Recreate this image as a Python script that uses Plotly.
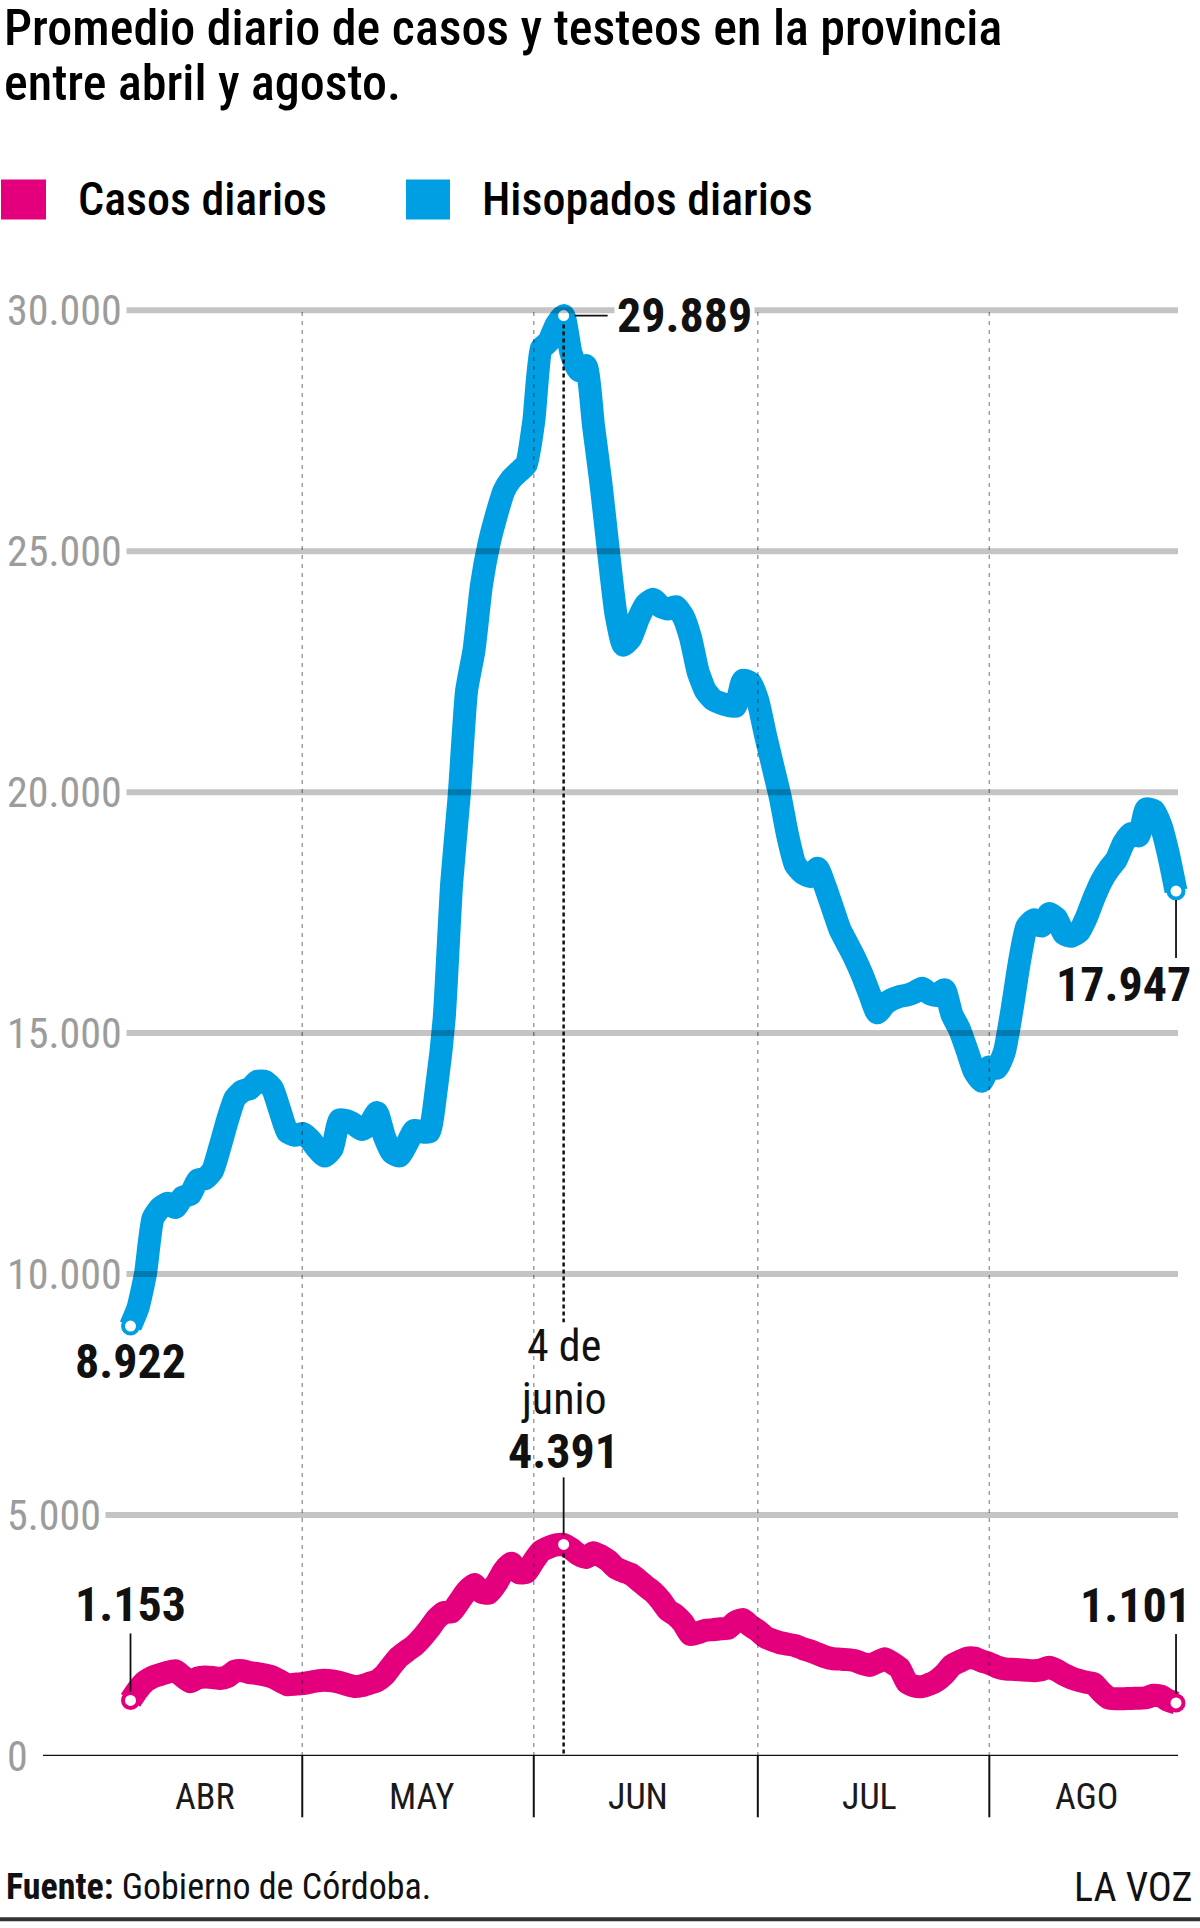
import pandas as pd
import plotly.graph_objects as go

# ---------------- data (7-day averages, Córdoba) ----------------
start_date = "2021-04-07"
hisopados = [8922, 9300, 10000, 11150, 11380, 11470, 11380, 11600, 11650, 11950,
             11980, 12150, 12650, 13200, 13650, 13800, 13850, 14000, 14000, 13850,
             13400, 12950, 12880, 12920, 12800, 12600, 12450, 12600, 13200, 13180,
             13100, 13000, 13100, 13350, 12850, 12520, 12450, 12700, 12980, 12950,
             12950, 13900, 15300, 18100, 19900, 22100, 22950, 24300, 25150, 25750,
             26250, 26500, 26650, 26800, 27700, 29200, 29350, 29700, 29889, 29100,
             28750, 28850, 27600, 26400, 25000, 23700, 23050, 23200, 23600, 23900,
             24000, 23850, 23800, 23850, 23650, 23200, 22500, 22100, 21920, 21850,
             21800, 21780, 22320, 22270, 21900, 21200, 20550, 19900, 19100, 18500,
             18320, 18250, 18420, 18050, 17600, 17150, 16850, 16550, 16200, 15800,
             15420, 15600, 15700, 15760, 15790, 15850, 15930, 15820, 15780, 15900,
             15380, 15080, 14650, 14200, 14000, 14300, 14270, 14600, 15450, 16450,
             17200, 17350, 17220, 17480, 17380, 17060, 17010, 17100, 17400, 17800,
             18150, 18400, 18600, 18950, 19140, 19090, 19650, 19620, 19300, 18700,
             17947]
casos = [1153, 1380, 1550, 1640, 1690, 1740, 1770, 1650, 1540, 1620,
         1640, 1630, 1610, 1650, 1760, 1770, 1730, 1710, 1680, 1640,
         1560, 1480, 1490, 1500, 1530, 1560, 1570, 1560, 1530, 1480,
         1440, 1460, 1510, 1560, 1680, 1880, 2060, 2180, 2290, 2450,
         2640, 2850, 2980, 2990, 3200, 3420, 3560, 3400, 3380, 3580,
         3850, 4000, 3800, 3810, 4050, 4250, 4330, 4380, 4391, 4300,
         4180, 4120, 4220, 4150, 4050, 3900, 3830, 3770, 3650, 3520,
         3400, 3230, 3020, 2920, 2760, 2520, 2560, 2610, 2620, 2640,
         2650, 2780, 2830, 2700, 2600, 2470, 2400, 2350, 2320, 2290,
         2230, 2180, 2120, 2060, 2020, 2010, 2000, 1980, 1920, 1880,
         1950, 2020, 1930, 1820, 1520, 1450, 1440, 1490, 1570, 1700,
         1880, 1960, 2030, 2030, 1970, 1920, 1850, 1810, 1800, 1790,
         1780, 1770, 1790, 1840, 1780, 1690, 1620, 1570, 1530, 1500,
         1330, 1200, 1190, 1190, 1195, 1200, 1210, 1260, 1240, 1150,
         1101]
highlight_idx = [0, 58, 140]          # first, peak (4 de junio), last
y_ticks = [0, 5000, 10000, 15000, 20000, 25000, 30000]
y_tick_labels = ["0", "5.000", "10.000", "15.000", "20.000", "25.000", "30.000"]
month_labels = ["ABR", "MAY", "JUN", "JUL", "AGO"]
month_label_dates = ["2021-04-17", "2021-05-16", "2021-06-14", "2021-07-15", "2021-08-13"]
month_dividers = ["2021-04-30", "2021-05-31", "2021-06-30", "2021-07-31"]

# ---------------- styling / layout geometry ----------------
PINK = "#E4007C"
BLUE = "#009FE3"
FONT = "Roboto Condensed, Liberation Sans Narrow, Arial Narrow, DejaVu Sans Condensed, Roboto, sans-serif"
W, H = 1200, 1928
L, R = 43, 13
Y0PX = 1755.7                 # pixel row of value 0
PX_PER_UNIT = 1445.9 / 30000  # vertical scale
DAY0PX = 130.5                # pixel column of first date
PX_PER_DAY = 7.468
YMAX = 31000
T = Y0PX - YMAX * PX_PER_UNIT
B = H - Y0PX
PW = W - L - R
PH = H - T - B

dates = pd.date_range(start_date, periods=len(hisopados), freq="D")
d0 = dates[0]
x_range = [d0 - pd.Timedelta(days=(DAY0PX - L) / PX_PER_DAY),
           d0 + pd.Timedelta(days=(W - R - DAY0PX) / PX_PER_DAY)]


def xpx(px):
    return (px - L) / PW


def ypx(py):
    return (H - B - py) / PH


def dy(px):
    return px / PX_PER_UNIT


def ydata(py):
    return (Y0PX - py) / PX_PER_UNIT


fig = go.Figure()

fig.add_trace(go.Scatter(x=dates, y=hisopados, mode="lines",
                         line=dict(color=BLUE, width=23, shape="spline", smoothing=0.5),
                         cliponaxis=False, name="Hisopados diarios", hoverinfo="skip"))
fig.add_trace(go.Scatter(x=dates, y=casos, mode="lines",
                         line=dict(color=PINK, width=23, shape="spline", smoothing=0.5),
                         cliponaxis=False, name="Casos diarios", hoverinfo="skip"))
for series, col in ((hisopados, BLUE), (casos, PINK)):
    fig.add_trace(go.Scatter(
        x=[dates[i] for i in highlight_idx], y=[series[i] for i in highlight_idx],
        mode="markers", cliponaxis=False, hoverinfo="skip",
        marker=dict(size=15, color="white", line=dict(color=col, width=4))))

shapes = []
annotations = []

# horizontal grid lines + labels
end_px = DAY0PX + (len(dates) - 1) * PX_PER_DAY
for v, lab in zip(y_ticks, y_tick_labels):
    if v == 0:
        shapes.append(dict(type="line", xref="paper", yref="y", x0=0, x1=xpx(end_px + 2),
                           y0=0, y1=0, line=dict(color="#111", width=2.5), layer="above"))
    else:
        shapes.append(dict(type="line", xref="paper", yref="y", x0=xpx(6), x1=xpx(end_px + 2),
                           y0=v, y1=v, line=dict(color="rgba(0,0,0,0.23)", width=6), layer="above"))
    annotations.append(dict(xref="paper", yref="y", x=xpx(2), y=v, text=lab, showarrow=False,
                            xanchor="left", yanchor="middle", bgcolor="white", borderpad=4,
                            font=dict(family=FONT, size=42, color="#9c9c9c")))

# month dividers and ticks
for d in month_dividers:
    shapes.append(dict(type="line", xref="x", yref="y", x0=d, x1=d, y0=0, y1=30000,
                       line=dict(color="rgba(0,0,0,0.38)", width=1.5, dash="4px,5px"),
                       layer="above"))
    shapes.append(dict(type="line", xref="x", yref="paper", x0=d, x1=d,
                       y0=ypx(Y0PX), y1=ypx(1817), line=dict(color="#111", width=2)))
for d, lab in zip(month_label_dates, month_labels):
    annotations.append(dict(xref="x", yref="paper", x=d, y=ypx(1797), text=lab,
                            showarrow=False, xanchor="center", yanchor="middle",
                            font=dict(family=FONT, size=36, color="#1a1a1a")))

# peak dotted line (4 de junio)
pk = dates[highlight_idx[1]]
dot = dict(color="#111", width=2.5, dash="4px,3px")
shapes.append(dict(type="line", xref="x", yref="y", x0=pk, x1=pk,
                   y0=hisopados[58] - dy(9), y1=ydata(1322), line=dot))
shapes.append(dict(type="line", xref="x", yref="y", x0=pk, x1=pk,
                   y0=casos[58] - dy(9), y1=0, line=dot))

# leaders
lead = dict(color="#111", width=1.8)
shapes.append(dict(type="line", xref="x", yref="y",
                   x0=pk + pd.Timedelta(days=11 / PX_PER_DAY), x1=pk + pd.Timedelta(days=44 / PX_PER_DAY),
                   y0=hisopados[58], y1=hisopados[58], line=lead))
last = dates[-1]
shapes.append(dict(type="line", xref="x", yref="y", x0=last, x1=last,
                   y0=hisopados[-1] - dy(9), y1=hisopados[-1] - dy(67), line=lead))
shapes.append(dict(type="line", xref="x", yref="y", x0=d0, x1=d0,
                   y0=casos[0] + dy(9), y1=casos[0] + dy(67), line=lead))
shapes.append(dict(type="line", xref="x", yref="y", x0=last, x1=last,
                   y0=casos[-1] + dy(9), y1=casos[-1] + dy(69), line=lead))
shapes.append(dict(type="line", xref="x", yref="y", x0=pk, x1=pk,
                   y0=casos[58] + dy(9), y1=casos[58] + dy(67), line=lead))


def fmt(v):
    return f"{v:,}".replace(",", ".")


BOLD = dict(family=FONT, size=48, color="#111")
annotations += [
    dict(xref="x", yref="y", x=pk, y=hisopados[58], text=f"<b>{fmt(hisopados[58])}</b>",
         showarrow=False, xanchor="left", yanchor="middle", xshift=50, bgcolor="white",
         borderpad=2, font=BOLD),
    dict(xref="x", yref="y", x=last, y=hisopados[-1], text=f"<b>{fmt(hisopados[-1])}</b>",
         showarrow=False, xanchor="right", yanchor="middle", xshift=17, yshift=-93, font=BOLD),
    dict(xref="x", yref="y", x=d0, y=hisopados[0], text=f"<b>{fmt(hisopados[0])}</b>",
         showarrow=False, xanchor="center", yanchor="middle", yshift=-35, font=BOLD),
    dict(xref="x", yref="y", x=d0, y=casos[0], text=f"<b>{fmt(casos[0])}</b>",
         showarrow=False, xanchor="center", yanchor="middle", yshift=96, font=BOLD),
    dict(xref="x", yref="y", x=last, y=casos[-1], text=f"<b>{fmt(casos[-1])}</b>",
         showarrow=False, xanchor="right", yanchor="middle", xshift=17, yshift=97, font=BOLD),
    dict(xref="x", yref="paper", x=pk, y=ypx(1346), text="4 de", showarrow=False,
         xanchor="center", yanchor="middle", font=dict(family=FONT, size=44, color="#111")),
    dict(xref="x", yref="paper", x=pk, y=ypx(1399), text="junio", showarrow=False,
         xanchor="center", yanchor="middle", font=dict(family=FONT, size=44, color="#111")),
    dict(xref="x", yref="paper", x=pk, y=ypx(1451), text=f"<b>{fmt(casos[58])}</b>",
         showarrow=False, xanchor="center", yanchor="middle", font=BOLD),
]

# title
TFONT = dict(family=FONT, size=50, color="#000000", weight=500)
annotations += [
    dict(xref="paper", yref="paper", x=xpx(2), y=ypx(28), xanchor="left", yanchor="middle",
         text="Promedio diario de casos y testeos en la provincia", showarrow=False, font=TFONT),
    dict(xref="paper", yref="paper", x=xpx(2), y=ypx(83), xanchor="left", yanchor="middle",
         text="entre abril y agosto.", showarrow=False, font=TFONT),
]

# legend
for x0, x1, col, tx, lab in ((1, 46, PINK, 76, "Casos diarios"),
                             (406, 450, BLUE, 480, "Hisopados diarios")):
    shapes.append(dict(type="rect", xref="paper", yref="paper", x0=xpx(x0), x1=xpx(x1),
                       y0=ypx(219), y1=ypx(179), fillcolor=col, line=dict(width=0)))
    annotations.append(dict(xref="paper", yref="paper", x=xpx(tx), y=ypx(199), text=lab,
                            showarrow=False, xanchor="left", yanchor="middle",
                            font=dict(family=FONT, size=46, color="#000000", weight=500)))

# footer
annotations += [
    dict(xref="paper", yref="paper", x=xpx(4), y=ypx(1887), xanchor="left", yanchor="middle",
         text="<b>Fuente:</b> Gobierno de Córdoba.", showarrow=False,
         font=dict(family=FONT, size=36, color="#111")),
    dict(xref="paper", yref="paper", x=xpx(1194), y=ypx(1887), xanchor="right", yanchor="middle",
         text="LA VOZ", showarrow=False, font=dict(family=FONT, size=40, color="#111")),
]
shapes.append(dict(type="line", xref="paper", yref="paper", x0=xpx(0), x1=xpx(W),
                   y0=ypx(1919), y1=ypx(1919), line=dict(color="#333", width=4)))

fig.update_layout(
    width=W, height=H, margin=dict(l=L, r=R, t=T, b=B),
    paper_bgcolor="white", plot_bgcolor="white", showlegend=False,
    xaxis=dict(type="date", range=x_range, visible=False, fixedrange=True),
    yaxis=dict(range=[0, YMAX], visible=False, fixedrange=True),
    shapes=shapes, annotations=annotations,
)

fig.write_html("out.html")
